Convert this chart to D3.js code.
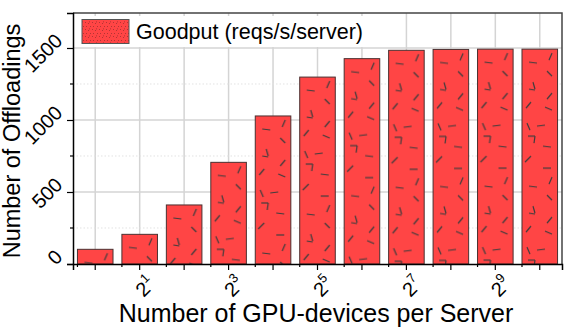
<!DOCTYPE html>
<html>
<head>
<meta charset="utf-8">
<script src="https://cdn.jsdelivr.net/npm/d3@7"></script>
<style>
  body { margin: 0; background: #fff; }
  svg text { font-family: "Liberation Sans", Arial, sans-serif; fill: #000; }
</style>
</head>
<body>
<svg id="chart" width="571" height="336"></svg>
<script>
// data
const exponents = [0, 1, 2, 3, 4, 5, 6, 7, 8, 9, 10];
const goodput = [102, 206, 410, 706, 1028, 1298, 1426, 1484, 1490, 1492, 1492];
const labelledExps = [1, 3, 5, 7, 9];
const yMajorTicks = [0, 500, 1000, 1500];
const yMinorTicks = [250, 750, 1250];
const seriesName = "Goodput (reqs/s/server)";

const svg = d3.select("#chart");
const plotL = 73, plotR = 562, plotT = 13, plotB = 264;

const x = d3.scaleBand()
    .domain(exponents)
    .range([plotL, plotR])
    .paddingInner(0.2)
    .paddingOuter(0.1);

const y = d3.scaleLinear()
    .domain([0, 1743])
    .range([plotB, plotT]);

// hatch marks inside bars (tile repeats down the bar)
const dashes = [
    [7, 13, 15, 14], [27, 11, 30, 4], [25, 22, 30, 27],
    [11, 33, 13, 40], [7, 40, 13, 41], [25, 50, 30, 44],
    [4, 59, 9, 53], [23, 58, 30, 61], [5, 74, 8, 81],
    [15, 77, 23, 76], [6, 87, 13, 87], [13, 87, 12, 94],
    [21, 97, 29, 98], [3, 113, 9, 107], [21, 119, 29, 119]
];
const tileH = 124;

const defs = svg.append("defs");

exponents.forEach((e, i) => {
    const p = defs.append("pattern")
        .attr("id", "hatch" + i)
        .attr("patternUnits", "userSpaceOnUse")
        .attr("x", x(e))
        .attr("y", y(goodput[i]))
        .attr("width", 60)
        .attr("height", tileH);
    p.append("rect").attr("width", 60).attr("height", tileH).attr("fill", "#ff4545");
    p.selectAll("line").data(dashes).join("line")
        .attr("x1", d => d[0]).attr("y1", d => d[1])
        .attr("x2", d => d[2]).attr("y2", d => d[3])
        .attr("stroke", "#3c3c3c")
        .attr("stroke-width", 1.2);
});

// stipple for legend swatch
const st = defs.append("pattern")
    .attr("id", "stipple")
    .attr("patternUnits", "userSpaceOnUse")
    .attr("width", 7).attr("height", 7);
st.append("rect").attr("width", 7).attr("height", 7).attr("fill", "#ff4545");
[[1, 1], [4, 2], [2, 5], [6, 5], [5, 0.5]].forEach(d => {
    st.append("rect").attr("x", d[0]).attr("y", d[1])
        .attr("width", 0.8).attr("height", 0.8).attr("fill", "#8a2a2a");
});

// grid
const grid = svg.append("g");
grid.selectAll(".vgrid").data(exponents).join("line")
    .attr("x1", d => x(d) + x.bandwidth() / 2)
    .attr("x2", d => x(d) + x.bandwidth() / 2)
    .attr("y1", plotT).attr("y2", plotB)
    .attr("stroke", "#d4d4d4").attr("stroke-width", 1.5);
grid.selectAll(".hgrid").data(yMajorTicks.slice(1)).join("line")
    .attr("x1", plotL).attr("x2", plotR)
    .attr("y1", d => y(d)).attr("y2", d => y(d))
    .attr("stroke", "#d4d4d4").attr("stroke-width", 1.5);
grid.selectAll(".hminor").data(yMinorTicks).join("line")
    .attr("x1", plotL).attr("x2", plotR)
    .attr("y1", d => y(d)).attr("y2", d => y(d))
    .attr("stroke", "#e2e2e2").attr("stroke-width", 1)
    .attr("stroke-dasharray", "1.5,2");

// legend background hides grid
svg.append("rect")
    .attr("x", plotL + 1.5).attr("y", plotT + 3)
    .attr("width", 312).attr("height", 31)
    .attr("fill", "#fff");

// bars
svg.append("g").selectAll("rect").data(exponents).join("rect")
    .attr("x", d => x(d))
    .attr("y", (d, i) => y(goodput[i]))
    .attr("width", x.bandwidth())
    .attr("height", (d, i) => y(0) - y(goodput[i]))
    .attr("fill", (d, i) => "url(#hatch" + i + ")")
    .attr("stroke", "#4a3030")
    .attr("stroke-width", 1);

// frame
svg.append("path")
    .attr("d", `M${plotL},${plotT}H${plotR}V${plotB}`)
    .attr("fill", "none").attr("stroke", "#444").attr("stroke-width", 1.5);

// x axis
const xAxis = svg.append("g").attr("transform", `translate(0,${plotB})`)
    .call(d3.axisBottom(x).tickSize(6).tickFormat(""));
xAxis.select(".domain").attr("stroke", "#000").attr("stroke-width", 1.5);
xAxis.selectAll(".tick line").attr("stroke-width", 1.2);
xAxis.selectAll(".minor").data(exponents).join("line")
    .attr("class", "minor")
    .attr("x1", d => x(d)).attr("x2", d => x(d))
    .attr("y1", 0).attr("y2", 3)
    .attr("stroke", "#000").attr("stroke-width", 1.2);

const xl = svg.append("g").selectAll("text").data(labelledExps).join("text")
    .attr("transform", d => `translate(${x(d) + x.bandwidth() / 2 + 17},285) rotate(-45)`)
    .attr("text-anchor", "end")
    .style("font-size", "20px");
xl.append("tspan").text("2");
xl.append("tspan").attr("dy", -9).style("font-size", "13px").text(d => d);

// y axis
const yAxis = svg.append("g").attr("transform", `translate(${plotL},0)`)
    .call(d3.axisLeft(y).tickValues(yMajorTicks).tickSize(6).tickFormat(""));
yAxis.select(".domain").attr("stroke", "#000").attr("stroke-width", 1.5);
yAxis.selectAll(".tick line").attr("stroke-width", 1.2);
yAxis.selectAll(".minor").data(yMinorTicks).join("line")
    .attr("class", "minor")
    .attr("x1", -3).attr("x2", 0)
    .attr("y1", d => y(d)).attr("y2", d => y(d))
    .attr("stroke", "#000").attr("stroke-width", 1.2);

svg.append("g").selectAll("text").data(yMajorTicks).join("text")
    .attr("transform", d => `translate(60,${y(d) - 9.5}) rotate(-45)`)
    .attr("text-anchor", "end")
    .attr("dominant-baseline", "middle")
    .style("font-size", "20px")
    .text(d => d);

// legend
svg.append("rect")
    .attr("x", 82).attr("y", 19.5)
    .attr("width", 47).attr("height", 24)
    .attr("fill", "url(#stipple)")
    .attr("stroke", "#555").attr("stroke-width", 1);
svg.append("text")
    .attr("x", 136).attr("y", 38.5)
    .style("font-size", "21.5px")
    .text(seriesName);

// titles
svg.append("text")
    .attr("transform", "translate(20,141) rotate(-90)")
    .attr("text-anchor", "middle")
    .style("font-size", "23.5px")
    .text("Number of Offloadings");
svg.append("text")
    .attr("x", 316).attr("y", 322)
    .attr("text-anchor", "middle")
    .style("font-size", "25px")
    .text("Number of GPU-devices per Server");
</script>
</body>
</html>
